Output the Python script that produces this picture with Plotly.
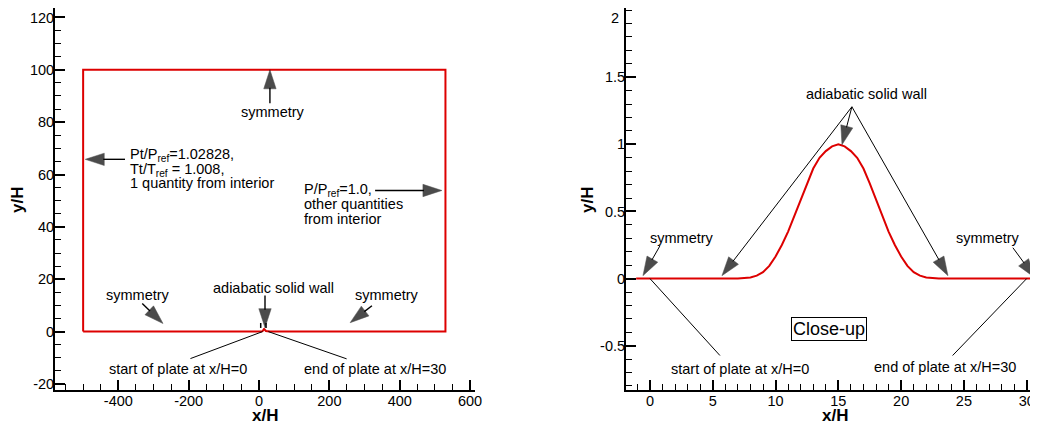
import plotly.graph_objects as go
import numpy as np

# ---------------- data ----------------
# close-up plate profile
plate_x = [-1.1, 0, 5, 6, 7, 8, 8.5, 9, 9.5, 10, 10.5, 11, 11.5, 12, 12.5, 13, 13.5, 14, 14.5, 15,
           15.5, 16, 16.5, 17, 17.5, 18, 18.5, 19, 19.5, 20, 20.5, 21, 21.5, 22, 23, 24, 25, 30, 30.9]
plate_y = [0, 0, 0, 0, 0.001, 0.008, 0.022, 0.048, 0.095, 0.165, 0.25, 0.35, 0.47, 0.59, 0.71, 0.82, 0.90, 0.95, 0.985, 1.0,
           0.985, 0.95, 0.90, 0.82, 0.71, 0.59, 0.47, 0.35, 0.25, 0.165, 0.095, 0.048, 0.022, 0.008, 0.001, 0, 0, 0, 0]

# computational domain box (left view)
box_x = [-500, -500, 530, 530]
box_y = [0, 100, 100, 0]

# tick labels
left_xticks = [-400, -200, 0, 200, 400, 600]
left_xlabels = ["-400", "-200", "0", "200", "400", "600"]
left_yticks = [-20, 0, 20, 40, 60, 80, 100, 120]
left_ylabels = ["-20", "0", "20", "40", "60", "80", "100", "120"]
right_xticks = [0, 5, 10, 15, 20, 25, 30]
right_xlabels = ["0", "5", "10", "15", "20", "25", "30"]
right_yticks = [-0.5, 0, 0.5, 1, 1.5, 2]
right_ylabels = ["-0.5", "0", "0.5", "1", "1.5", "2"]

# ---------------- figure ----------------
RED = "#dd0000"
FONT = "Liberation Sans, Arial, sans-serif"
FS = 14.5
W, H = 1030, 419          # page adds an 8px body margin
OFF = 8


def fx(px):
    return (px - OFF) / W


def fy(py):
    return (H - (py - OFF)) / H


fig = go.Figure()

left_x = box_x + plate_x[::-1] + [-500]
left_y = box_y + plate_y[::-1] + [0]
fig.add_trace(go.Scatter(x=left_x, y=left_y, mode="lines", line=dict(color=RED, width=2),
                         xaxis="x", yaxis="y", hoverinfo="skip"))
fig.add_trace(go.Scatter(x=plate_x, y=plate_y, mode="lines", line=dict(color=RED, width=2),
                         xaxis="x2", yaxis="y2", hoverinfo="skip", cliponaxis=True))


def seg(xa, ya, pts, width=1.0, arrow=False, size=20):
    xs = [p[0] for p in pts]
    ys = [p[1] for p in pts]
    if arrow:
        mode = "lines+markers"
        marker = dict(symbol="arrow", angleref="previous", size=[0] * (len(pts) - 1) + [size],
                      color="black", line=dict(width=0.5, color="black"))
    else:
        mode = "lines"
        marker = None
    fig.add_trace(go.Scatter(x=xs, y=ys, mode=mode, line=dict(color="black", width=width),
                             marker=marker, xaxis=xa, yaxis=ya, hoverinfo="skip", cliponaxis=False))


# left view arrows
seg("x", "y", [(31, 87.2), (31, 100)], 1.4, True)
seg("x", "y", [(-381, 65.8), (-494, 65.8)], 1.4, True)
seg("x", "y", [(330, 53.9), (520, 53.9)], 1.4, True)
seg("x", "y", [(-332, 10.7), (-273, 3.1)], 1.4, True)
seg("x", "y", [(17, 13.8), (17, 1.5)], 1.4, True)
seg("x", "y", [(321, 9.9), (259, 3.4)], 1.4, True)
seg("x", "y", [(10, 0), (-195, -10.3)], 1.0)
seg("x", "y", [(26.5, 0), (249, -10.4)], 1.0)
seg("x", "y", [(4.8, 1.4), (4.8, 3.3)], 1.5)
seg("x", "y", [(19.9, 1.4), (19.9, 3.3)], 1.5)

# right view arrows
seg("x2", "y2", [(16.08, 1.28), (15.29, 0.997)], 1.0, True)
seg("x2", "y2", [(16.08, 1.28), (5.73, 0.022)], 1.0, True)
seg("x2", "y2", [(16.08, 1.28), (23.73, 0.022)], 1.0, True)
seg("x2", "y2", [(0.8, 0.245), (-0.56, 0.022)], 1.0, True)
seg("x2", "y2", [(28.9, 0.23), (30.65, 0.007)], 1.0, True)
seg("x2", "y2", [(0, 0), (5.57, -0.573)], 1.0)
seg("x2", "y2", [(30, 0), (24.1, -0.573)], 1.0)

anns = []


def txt(xr, yr, x, y, text, xanchor="center", size=FS, **kw):
    d = dict(xref=xr, yref=yr, x=x, y=y, text=text, showarrow=False, xanchor=xanchor,
             yanchor="middle", font=dict(family=FONT, size=size, color="black"))
    d.update(kw)
    anns.append(d)


# left view labels
txt("x", "y", 40, 83.7, "symmetry")
txt("x", "y", -372, 67.3, "Pt/P<sub>ref</sub>=1.02828,", "left")
txt("x", "y", -372, 61.6, "Tt/T<sub>ref</sub> = 1.008,", "left")
txt("x", "y", -372, 56.6, "1 quantity from interior", "left")
txt("x", "y", 122, 53.9, "P/P<sub>ref</sub>=1.0,", "left")
txt("x", "y", 122, 48.6, "other quantities", "left")
txt("x", "y", 122, 43.2, "from interior", "left")
txt("x", "y", -344, 13.8, "symmetry")
txt("x", "y", 40, 16.8, "adiabatic solid wall")
txt("x", "y", 364, 13.8, "symmetry")
txt("x", "y", -230, -14.1, "start of plate at x/H=0")
txt("x", "y", 330, -14.1, "end of plate at x/H=30")

# right view labels
txt("x2", "y2", 17.28, 1.376, "adiabatic solid wall")
txt("x2", "y2", 2.55, 0.305, "symmetry")
txt("x2", "y2", 26.9, 0.305, "symmetry")
txt("x2", "y2", 7.17, -0.677, "start of plate at x/H=0")
txt("x2", "y2", 23.5, -0.662, "end of plate at x/H=30")
txt("x2", "y2", 14.25, -0.372, "Close-up", size=18, bordercolor="black", borderwidth=1, borderpad=1)

# top tick label of the close-up would be cut by the page edge: draw it just inside
right_ytext = right_ylabels[:-1] + [""]
anns.append(dict(xref="paper", yref="y2", x=fx(621), y=right_yticks[-1], text=right_ylabels[-1],
                 showarrow=False, xanchor="right", yanchor="top", yshift=2,
                 font=dict(family=FONT, size=FS, color="black")))

# axis titles
TF = dict(family=FONT, size=17, color="black")
for xp in (fx(265), fx(835)):
    anns.append(dict(xref="paper", yref="paper", x=xp, y=fy(415), text="<b>x/H</b>",
                     showarrow=False, xanchor="center", yanchor="middle", font=TF))
for xp in (fx(18), fx(588)):
    anns.append(dict(xref="paper", yref="paper", x=xp, y=fy(200), text="<b>y/H</b>",
                     showarrow=False, xanchor="center", yanchor="middle", font=TF, textangle=-90))

axc = dict(showline=True, linecolor="black", linewidth=2, ticks="inside", ticklen=10, tickwidth=2,
           tickcolor="black", showgrid=False, zeroline=False, mirror=False, automargin=False,
           tickmode="array", ticklabeloverflow="allow",
           tickfont=dict(family=FONT, size=FS, color="black"))


def minor(vals, ln=6):
    return dict(ticks="inside", ticklen=ln, tickwidth=1, tickcolor="black", tickmode="array",
                tickvals=list(vals), showgrid=False)


ydom = [fy(390), 1.0]
fig.update_layout(
    width=W, height=H, margin=dict(l=0, r=0, t=0, b=0),
    paper_bgcolor="white", plot_bgcolor="white", showlegend=False,
    xaxis=dict(axc, domain=[fx(55), fx(475)], range=[-580, 614], tickvals=left_xticks,
               ticktext=left_xlabels, anchor="y", ticklabelstandoff=-3,
               minor=minor(np.arange(-550, 601, 50))),
    yaxis=dict(axc, domain=ydom, range=[-22.3, 123.6], tickvals=left_yticks, ticktext=left_ylabels,
               anchor="x", ticklabelstandoff=-4, minor=minor(np.arange(-20, 121, 5))),
    xaxis2=dict(axc, domain=[fx(626), 1.0], range=[-1.91, 30.9], tickvals=right_xticks,
                ticktext=right_xlabels, anchor="y2", ticklabelstandoff=-3,
                minor=minor(np.arange(-1, 31, 1))),
    yaxis2=dict(axc, domain=ydom, range=[-0.83, 2.016], tickvals=right_yticks, ticktext=right_ytext,
                anchor="x2", ticklabelstandoff=-4, minor=minor(np.round(np.arange(-0.8, 2.01, 0.1), 2))),
    annotations=anns,
)

fig.write_html("out.html")
